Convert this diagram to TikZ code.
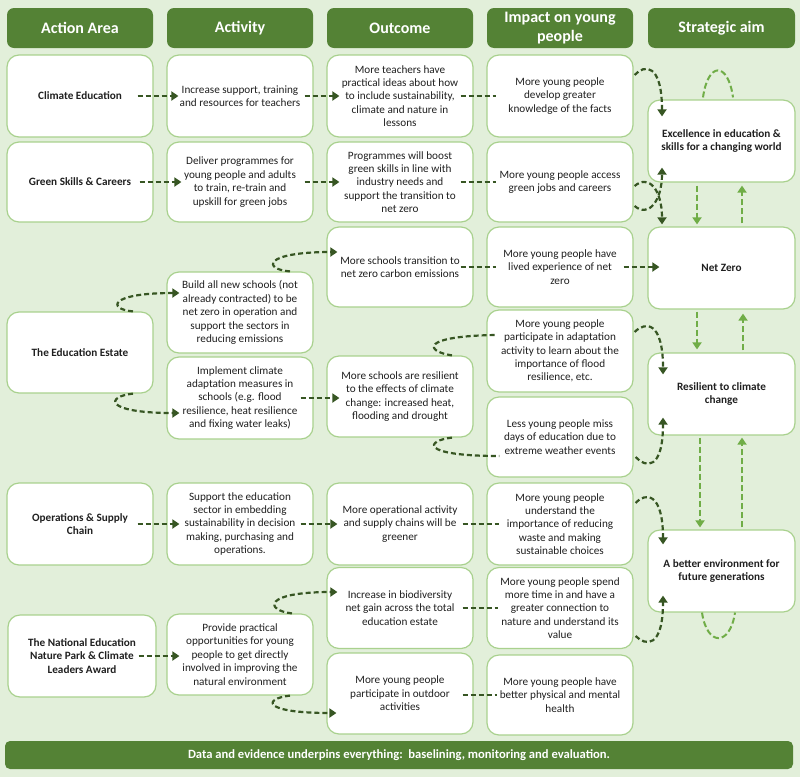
\documentclass[tikz,border=0pt]{standalone}
\usepackage{fontspec}
\setmainfont{Carlito}
\usetikzlibrary{arrows.meta,calc}
\definecolor{bg}{HTML}{E2EFDA}
\definecolor{hdr}{HTML}{548235}
\definecolor{bord}{HTML}{A9D18E}
\definecolor{darr}{HTML}{375623}
\definecolor{larr}{HTML}{70AD47}
\definecolor{txt}{HTML}{202020}
\tikzset{
 hdrbox/.style={fill=hdr, draw=none, rounded corners=7pt, minimum width=146pt, minimum height=40pt, text=white, font=\fontsize{16}{18.5}\selectfont\bfseries, align=center, inner sep=0pt},
 box/.style={fill=white, draw=bord, line width=1.2pt, rounded corners=12pt, minimum width=146pt, minimum height=82pt, text=txt, font=\fontsize{11.2}{13.4}\selectfont, align=center, inner sep=0pt},
 bbox/.style={box, font=\fontsize{11.2}{13.4}\selectfont\bfseries},
 banner/.style={fill=hdr, draw=none, rounded corners=5pt, minimum width=788pt, minimum height=28pt, text=white, font=\fontsize{12.6}{14}\selectfont\bfseries, inner sep=0pt},
 darrow/.style={draw=darr, line width=2.2pt, dash pattern=on 5pt off 3pt, -{Triangle[length=7pt,width=9pt]}},
 dline/.style={draw=darr, line width=2.2pt, dash pattern=on 5pt off 3pt},
 larrow/.style={draw=larr, line width=2pt, dash pattern=on 6pt off 3pt, -{Triangle[length=7pt,width=9pt]}},
 lline/.style={draw=larr, line width=2pt, dash pattern=on 6pt off 3pt},
}
\begin{document}
\begin{tikzpicture}[x=1pt,y=-1pt]
\useasboundingbox (0,0) rectangle (800,777);
\fill[bg] (0,0) rectangle (800,777);
% headers
\node[hdrbox] (h1) at (80,28) {Action Area};
\node[hdrbox] (h2) at (240,28) {Activity};
\node[hdrbox] (h3) at (400,28) {Outcome};
\node[hdrbox] (h4) at (560,28) {Impact on young\\people};
\node[hdrbox, minimum width=147pt] (h5) at (721.5,28) {Strategic aim};
% row 1
\node[bbox] (ce) at (80,96) {Climate Education};
\node[box] (a1) at (240,96) {Increase support, training\\and resources for teachers};
\node[box] (o1) at (400,96) {More teachers have\\practical ideas about how\\to include sustainability,\\climate and nature in\\lessons};
\node[box] (i1) at (560,96) {More young people\\develop greater\\knowledge of the facts};
% row 2
\node[bbox, minimum height=80pt] (gs) at (80,182) {Green Skills \& Careers};
\node[box, minimum height=80pt] (a2) at (240,182) {Deliver programmes for\\young people and adults\\to train, re-train and\\upskill for green jobs};
\node[box, minimum height=80pt] (o2) at (400,182) {Programmes will boost\\green skills in line with\\industry needs and\\support the transition to\\net zero};
\node[box, minimum height=80pt] (i2) at (560,182) {More young people access\\green jobs and careers};
% education estate
\node[box, minimum height=80pt] (o3) at (400,267) {More schools transition to\\net zero carbon emissions};
\node[box, minimum height=80pt] (i3) at (560,267) {More young people have\\lived experience of net\\zero};
\node[box, minimum height=81pt] (b) at (240,312.5) {Build all new schools (not\\already contracted) to be\\net zero in operation and\\support the sectors in\\reducing emissions};
\node[bbox, minimum height=81pt] (ee) at (80,352.5) {The Education Estate};
\node[box] (im) at (240,398) {Implement climate\\adaptation measures in\\schools (e.g. flood\\resilience, heat resilience\\and fixing water leaks)};
\node[box, minimum height=81pt] (o4) at (400,396.5) {More schools are resilient\\to the effects of climate\\change: increased heat,\\flooding and drought};
\node[box] (i4) at (560,351) {More young people\\participate in adaptation\\activity to learn about the\\importance of flood\\resilience, etc.};
\node[box, minimum height=80pt] (i5) at (560,437) {Less young people miss\\days of education due to\\extreme weather events};
% strategic aims
\node[bbox, minimum width=147pt] (exc) at (721.5,141) {Excellence in education \&\\skills for a changing world};
\node[bbox, minimum width=147pt] (nz) at (721.5,268) {Net Zero};
\node[bbox, minimum width=147pt] (res) at (721.5,394) {Resilient to climate\\change};
\node[bbox, minimum width=147pt] (env) at (721.5,571) {A better environment for\\future generations};
% operations
\node[bbox] (ops) at (80,524) {Operations \& Supply\\Chain};
\node[box] (a6) at (240,524) {Support the education\\sector in embedding\\sustainability in decision\\making, purchasing and\\operations.};
\node[box] (o6) at (400,524) {More operational activity\\and supply chains will be\\greener};
\node[box] (i6) at (560,524) {More young people\\understand the\\importance of reducing\\waste and making\\sustainable choices};
% nature park
\node[box, minimum height=81pt] (o7) at (400,608) {Increase in biodiversity\\net gain across the total\\education estate};
\node[box, minimum height=81pt] (i7) at (560,608) {More young people spend\\more time in and have a\\greater connection to\\nature and understand its\\value};
\node[bbox, minimum width=148pt] (nat) at (82,656) {The National Education\\Nature Park \& Climate\\Leaders Award};
\node[box, minimum height=81pt] (a8) at (240,654.5) {Provide practical\\opportunities for young\\people to get directly\\involved in improving the\\natural environment};
\node[box, minimum height=81pt] (o8) at (400,693.5) {More young people\\participate in outdoor\\activities};
\node[box, minimum height=80pt] (i8) at (560,695) {More young people have\\better physical and mental\\health};
% banner
\node[banner] (ban) at (399,755) {Data and evidence underpins everything:\ \ baselining, monitoring and evaluation.};
% ---- dark connectors ----
\draw[darrow] ($(ce.east)+(-16,0)$) -- ($(a1.west)+(12,0)$);
\draw[darrow] ($(a1.east)+(-9,0)$) -- ($(o1.west)+(13,0)$);
\draw[dline] ($(o1.east)+(-13,0)$) -- ($(i1.west)+(10,0)$);
\draw[darrow] ($(i1.east)+(1,-21)$) .. controls +(10,-11) and +(0,-53) .. ($(exc.north)+(-59.5,17)$);
\draw[darrow] ($(gs.east)+(-14,0)$) -- ($(a2.west)+(15,0)$);
\draw[darrow] ($(a2.east)+(-9,0)$) -- ($(o2.west)+(13,0)$);
\draw[dline] ($(o2.east)+(-13,0)$) -- ($(i2.west)+(10,0)$);
\draw[darrow] ($(i2.east)+(1,4)$) .. controls +(14,-12) and +(0,-35) .. ($(nz.north)+(-59.5,-2)$);
\draw[darrow] ($(i2.east)+(1,24)$) .. controls +(14,12) and +(0,33) .. ($(exc.south)+(-59.5,-15)$);
\draw[dline] ($(o3.east)+(-13,0)$) -- ($(i3.west)+(10,0)$);
\draw[darrow] ($(i3.east)+(-10,0)$) -- ($(i3.east -| nz.west)+(12,0)$);
\draw[darrow] ($(ee.north)+(53,0)$) .. controls +(-25,-2) and +(-72,0) .. ($(b.west)+(13,-19.5)$);
\draw[darrow] ($(b.north)+(50,0)$) .. controls +(-27,-2) and +(-75,0) .. ($(o3.west)+(11,-15)$);
\draw[darrow] ($(ee.south)+(53,0)$) .. controls +(-28,3) and +(-75,0) .. ($(im.west)+(13,15)$);
\draw[darrow] ($(im.east)+(-13,0)$) -- ($(im.east -| o4.west)+(13,0)$);
\draw[dline] ($(o4.north)+(52,0)$) .. controls +(-27,-4) and +(-77,1) .. ($(i4.west)+(10,-16)$);
\draw[dline] ($(o4.south)+(52,0)$) .. controls +(-27,3) and +(-80,0) .. ($(i5.west)+(13,19)$);
\draw[darrow] ($(i4.east)+(1,-19)$) .. controls +(11,-11) and +(0,-53) .. ($(res.north)+(-58.5,22)$);
\draw[darrow] ($(i5.east)+(2,20)$) .. controls +(10,11) and +(0,53) .. ($(res.south)+(-58.5,-18)$);
\draw[darrow] ($(ops.east)+(-16,0)$) -- ($(a6.west)+(13,0)$);
\draw[darrow] ($(a6.east)+(-13,0)$) -- ($(o6.west)+(11,0)$);
\draw[dline] ($(o6.east)+(-11,0)$) -- ($(i6.west)+(13,0)$);
\draw[darrow] ($(i6.east)+(2,-21)$) .. controls +(10,-11) and +(0,-52) .. ($(env.north)+(-58.5,15)$);
\draw[darrow] ($(a8.north)+(52,0)$) .. controls +(-27,-3) and +(-75,0) .. ($(o7.west)+(11,-16)$);
\draw[darrow] ($(nat.east)+(-18,0)$) -- ($(nat.east -| a8.west)+(13,0)$);
\draw[darrow] ($(a8.south)+(50,0)$) .. controls +(-27,3) and +(-75,0) .. ($(o8.west)+(10,19.5)$);
\draw[dline] ($(o7.east)+(-11,0)$) -- ($(i7.west)+(12,0)$);
\draw[dline] ($(i8.west -| o8.east)+(-11,0)$) -- ($(i8.west)+(11,0)$);
\draw[darrow] ($(i7.east)+(2,28)$) .. controls +(10,10) and +(0,53) .. ($(env.south)+(-58.5,-17)$);
% ---- light connectors ----
\draw[lline] ($(exc.north)+(-18.5,-2)$) .. controls +(5,-36) and +(-5,-36) .. ($(exc.north)+(11.5,-2)$);
\draw[lline] ($(env.south)+(-19.5,0)$) .. controls +(5,34) and +(-5,34) .. ($(env.south)+(13.5,0)$);
\draw[larrow] ($(exc.south)+(-24.5,3)$) -- ($(nz.north)+(-24.5,-2)$);
\draw[larrow] ($(nz.north)+(20.5,-3)$) -- ($(exc.south)+(20.5,3)$);
\draw[larrow] ($(nz.south)+(-24.5,2)$) -- ($(res.north)+(-24.5,-3)$);
\draw[larrow] ($(res.north)+(21.5,-2)$) -- ($(nz.south)+(21.5,4)$);
\draw[larrow] ($(res.south)+(-21.5,2)$) -- ($(env.north)+(-21.5,-2)$);
\draw[larrow] ($(env.north)+(20.5,-2)$) -- ($(res.south)+(20.5,2)$);
\end{tikzpicture}
\end{document}
